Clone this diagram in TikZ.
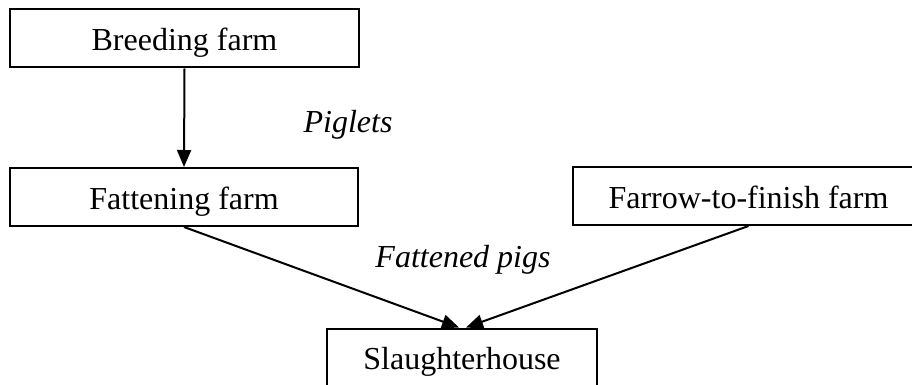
\documentclass[tikz,border=0pt]{standalone}
\usepackage{fontspec}
\setmainfont{Liberation Serif}
\usetikzlibrary{arrows.meta,calc}
\begin{document}
\begin{tikzpicture}[x=1pt,y=-1pt,
  farmbox/.style={draw, line width=2pt, inner sep=0pt, minimum height=58pt,
    text height=24pt, text depth=0pt, font=\fontsize{32}{38}\selectfont},
  flow/.style={line width=2pt, -{Triangle[length=17pt,width=14pt]}},
  flowlabel/.style={anchor=base, inner sep=0pt, font=\fontsize{32}{38}\selectfont\itshape}]
\useasboundingbox (0,0) rectangle (912,385);
\node[farmbox, minimum width=349pt] (breed) at (184.5,38.5) {Breeding farm};
\node[farmbox, minimum width=348pt] (fatten) at (184,197) {Fattening farm};
\node[farmbox, minimum width=351pt] (farrow) at (748.5,196) {Farrow-to-finish farm};
\node[farmbox, minimum width=270pt] (slaughter) at (462,357.5) {Slaughterhouse};
\draw[flow] (breed.south) -- (fatten.north);
\draw[flow] (fatten.south) -- ($(slaughter.north)+(-3,0)$);
\draw[flow] (farrow.south) -- ($(slaughter.north)+(4,0)$);
\node[flowlabel] (piglets) at (348,132) {Piglets};
\node[flowlabel] (fattened) at (463,267) {Fattened pigs};
\end{tikzpicture}
\end{document}
